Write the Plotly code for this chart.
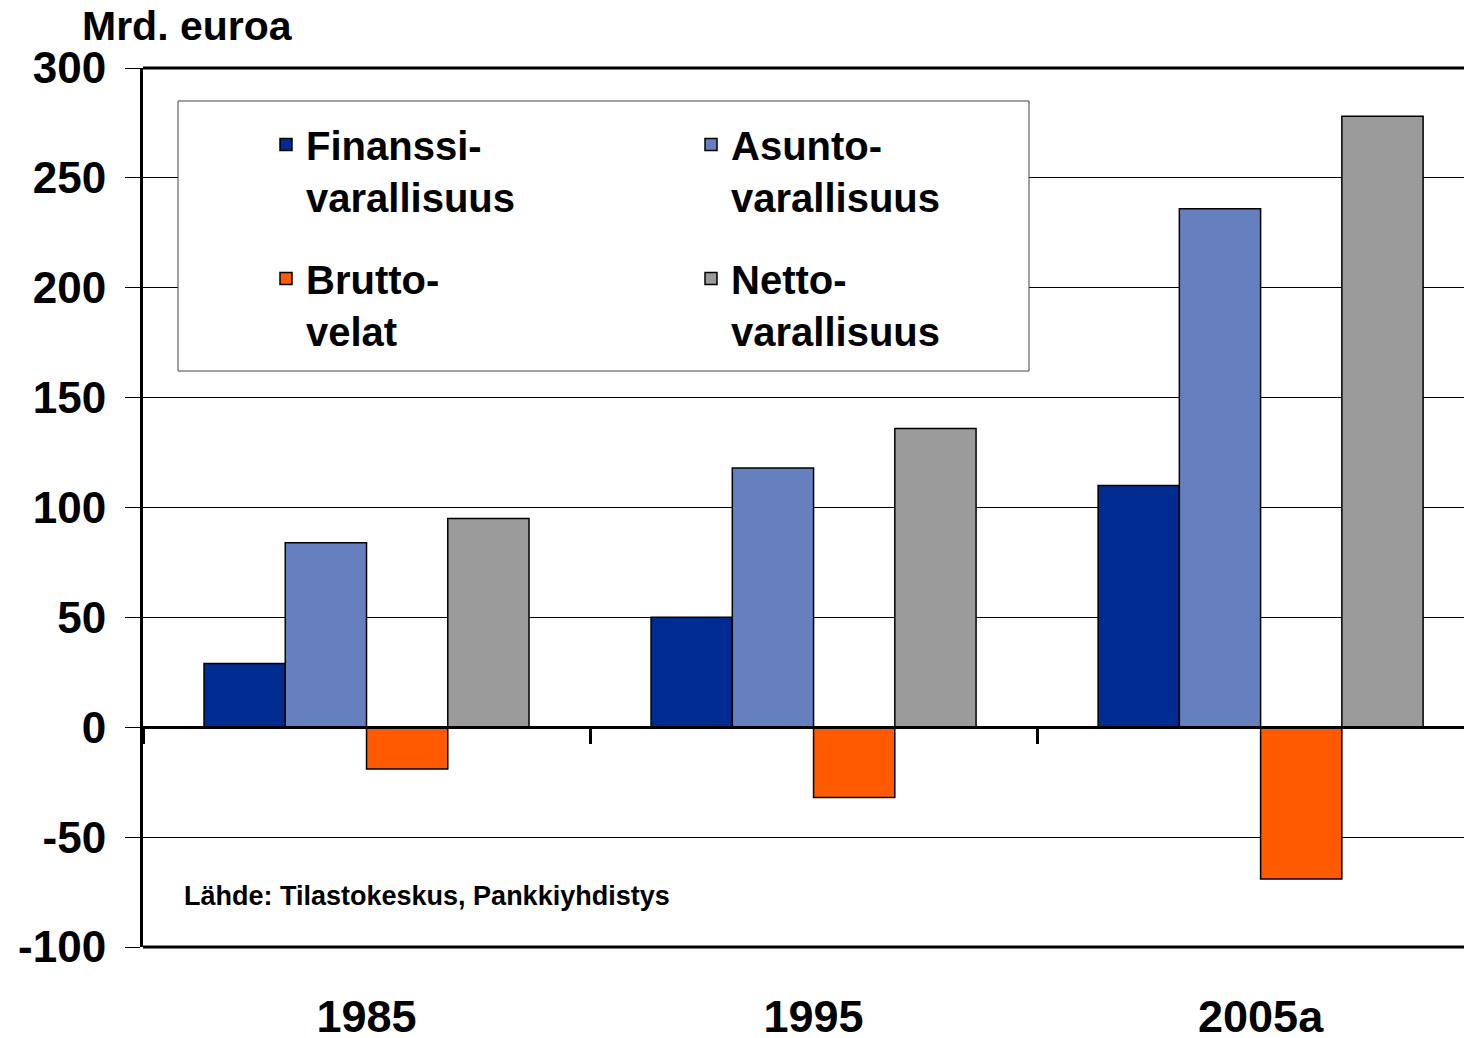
import plotly.graph_objects as go

years = ["1985", "1995", "2005a"]
finanssi = [29, 50, 110]
asunto = [84, 118, 236]
brutto = [-19, -32, -69]
netto = [95, 136, 278]

y_tickvals = [-100, -50, 0, 50, 100, 150, 200, 250, 300]
y_ticktext = ["-100", "-50", "0", "50", "100", "150", "200", "250", "300"]

names = ["Finanssi-<br>varallisuus", "Asunto-<br>varallisuus", "Brutto-<br>velat", "Netto-<br>varallisuus"]
colors = ["#002B90", "#6680BF", "#FF5A00", "#9B9B9B"]
series = [finanssi, asunto, brutto, netto]
legends = ["legend", "legend", "legend2", "legend2"]

FONT = "Arial, Liberation Sans, sans-serif"

fig = go.Figure()
for nm, col, vals, lg in zip(names, colors, series, legends):
    fig.add_trace(go.Bar(
        x=years, y=vals, name=nm, legend=lg,
        marker=dict(color=col, line=dict(color="black", width=1.5)),
    ))

W, H = 1464, 1038
L, R, T, B = 143, 0, 68, 91
pw, ph = W - L - R, H - T - B

def px(x):
    return (x - L) / pw

def py(y):
    return (H - B - y) / ph

legend_common = dict(
    orientation="h", xanchor="left", yanchor="top",
    bgcolor="rgba(0,0,0,0)", borderwidth=0,
    font=dict(family=FONT, size=40, color="black", weight="bold"),
    entrywidth=380, entrywidthmode="pixels", valign="top",
    itemclick=False, itemdoubleclick=False,
)

zero_pos = (0 - (-100)) / (300 - (-100))

fig.update_layout(
    width=W, height=H,
    margin=dict(l=L, r=R, t=T, b=B, autoexpand=False),
    paper_bgcolor="white", plot_bgcolor="white",
    barmode="group", bargap=0.273, bargroupgap=0,
    showlegend=True,
    legend=dict(x=px(266), y=py(112), **legend_common),
    legend2=dict(x=px(266), y=py(246), **legend_common),
    xaxis=dict(
        type="category", categoryorder="array", categoryarray=years,
        range=[-0.5, 2.455], anchor="free", position=zero_pos,
        showline=True, linecolor="black", linewidth=3,
        ticks="outside", tickson="boundaries", ticklen=15, tickwidth=3, tickcolor="black",
        showgrid=False, zeroline=False, automargin=False,
        tickfont=dict(family=FONT, size=45, color="black", weight="bold"),
        ticklabelstandoff=249,
    ),
    yaxis=dict(
        range=[-100, 300], tickmode="array", tickvals=y_tickvals, ticktext=y_ticktext,
        showline=True, linecolor="black", linewidth=3, mirror=False,
        ticks="outside", ticklen=15, tickwidth=1, tickcolor="black",
        showgrid=True, gridcolor="black", gridwidth=1, zeroline=False, automargin=False,
        tickfont=dict(family=FONT, size=44, color="black", weight="bold"),
        ticklabelstandoff=10,
    ),
    shapes=[
        dict(type="line", xref="paper", yref="paper", x0=0, x1=1, y0=1, y1=1,
             line=dict(color="black", width=3), layer="above"),
        dict(type="line", xref="paper", yref="paper", x0=0, x1=1, y0=0, y1=0,
             line=dict(color="black", width=3), layer="above"),
        dict(type="rect", xref="paper", yref="paper",
             x0=px(178), x1=px(1029), y0=py(371), y1=py(101),
             fillcolor="white", line=dict(color="#444444", width=1), layer="above"),
    ],
    annotations=[
        dict(text="Mrd. euroa", xref="paper", yref="paper", x=px(80), y=py(26),
             xanchor="left", yanchor="middle", showarrow=False,
             font=dict(family=FONT, size=41, color="black", weight="bold")),
        dict(text="Lähde: Tilastokeskus, Pankkiyhdistys", xref="paper", yref="paper",
             x=px(182), y=py(896), xanchor="left", yanchor="middle", showarrow=False,
             font=dict(family=FONT, size=27, color="black", weight="bold")),
    ],
)

fig.write_html(
    "out.html",
    config={"displayModeBar": False},
    post_script="document.body.style.margin='0';document.body.style.overflow='hidden';",
)
